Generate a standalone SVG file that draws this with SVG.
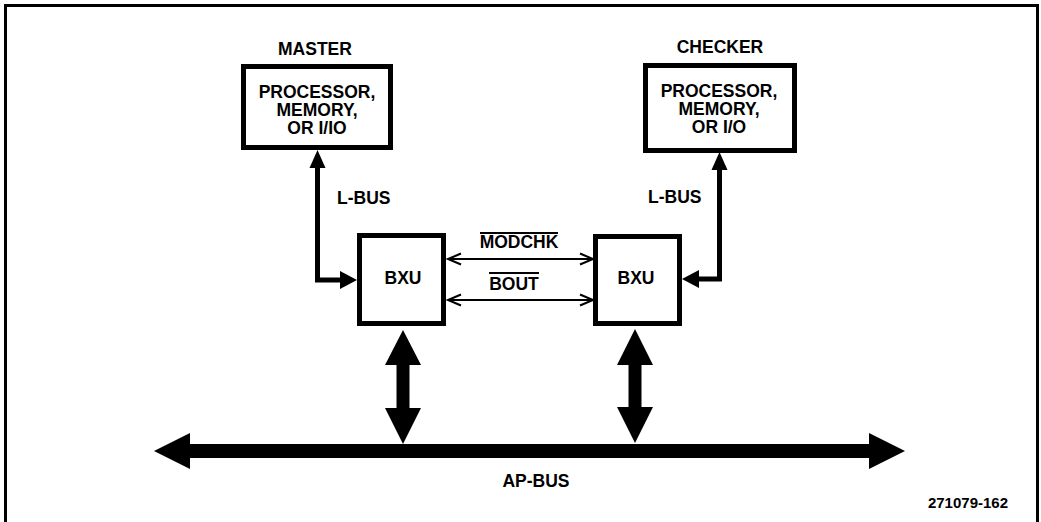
<svg xmlns="http://www.w3.org/2000/svg" width="1041" height="522" viewBox="0 0 1041 522">
<style>
  text { font-family: "Liberation Sans", Arial, sans-serif; font-weight: bold; fill: #000; }
  .lbl { font-size: 17.5px; }
  .mid { text-anchor: middle; }
  .box { fill: #fff; stroke: #000; stroke-width: 5; }
  .thick { fill: none; stroke: #000; stroke-width: 5; }
  .thin { fill: none; stroke: #000; stroke-width: 2; }
  .solid { fill: #000; stroke: none; }
</style>
<rect x="0" y="0" width="1041" height="522" fill="#fff"/>
<path d="M5.5,522 V5.5 H1037.5 V522" fill="none" stroke="#000" stroke-width="3"/>

<g id="master">
  <text class="lbl mid" x="315" y="55">MASTER</text>
  <rect class="box" x="243.5" y="66.5" width="147" height="81"/>
  <text class="lbl mid" x="317" y="98">PROCESSOR,</text>
  <text class="lbl mid" x="317" y="116">MEMORY,</text>
  <text class="lbl mid" x="317" y="134">OR I/IO</text>
</g>

<g id="checker">
  <text class="lbl mid" x="720" y="53">CHECKER</text>
  <rect class="box" x="645.5" y="65.5" width="149" height="85"/>
  <text class="lbl mid" x="719" y="97">PROCESSOR,</text>
  <text class="lbl mid" x="719" y="115">MEMORY,</text>
  <text class="lbl mid" x="719" y="133">OR I/O</text>
</g>

<g id="bxu-left">
  <rect class="box" x="359.5" y="235.5" width="84" height="88"/>
  <text class="lbl mid" x="403" y="284">BXU</text>
</g>

<g id="bxu-right">
  <rect class="box" x="595.5" y="236.5" width="84" height="87"/>
  <text class="lbl mid" x="636" y="284">BXU</text>
</g>

<g id="connectors">
  <!-- left L-bus -->
  <path class="thick" d="M317.5,167 V280 H342"/>
  <polygon class="solid" points="317.5,150 309.5,168 325.5,168"/>
  <polygon class="solid" points="357,280 340,271 340,289"/>
  <text class="lbl" x="337" y="204">L-BUS</text>

  <!-- right L-bus -->
  <path class="thick" d="M719.5,169 V279 H697"/>
  <polygon class="solid" points="719.5,152 711.5,170 727.5,170"/>
  <polygon class="solid" points="682,279 699,270 699,288"/>
  <text class="lbl" x="648" y="203">L-BUS</text>

  <!-- MODCHK -->
  <line class="thin" x1="448" y1="259" x2="593" y2="259"/>
  <polyline class="thin" points="461,253.5 448,259 461,264.5"/>
  <polyline class="thin" points="580,253.5 593,259 580,264.5"/>
  <text class="lbl mid" x="519" y="248">MODCHK</text>
  <line class="thin" x1="480" y1="233" x2="558" y2="233"/>

  <!-- BOUT -->
  <line class="thin" x1="448" y1="300" x2="593" y2="300"/>
  <polyline class="thin" points="461,294.5 448,300 461,305.5"/>
  <polyline class="thin" points="580,294.5 593,300 580,305.5"/>
  <text class="lbl mid" x="514" y="290">BOUT</text>
  <line class="thin" x1="489" y1="273" x2="539" y2="273"/>

  <!-- vertical double arrows -->
  <polygon class="solid" points="403,330 385,365 396.5,365 396.5,408 385,408 403,444 421,408 409.5,408 409.5,365 421,365"/>
  <polygon class="solid" points="635,329 617,365 628.5,365 628.5,407 617,407 635,443 653,407 641.5,407 641.5,365 653,365"/>

  <!-- AP-bus -->
  <polygon class="solid" points="154,451 190,433 190,444 869,444 869,433 905,451 869,469 869,458 190,458 190,469"/>
  <text class="lbl mid" x="536" y="487">AP-BUS</text>
</g>

<text x="1008" y="508" font-size="15" text-anchor="end">271079-162</text>
</svg>
